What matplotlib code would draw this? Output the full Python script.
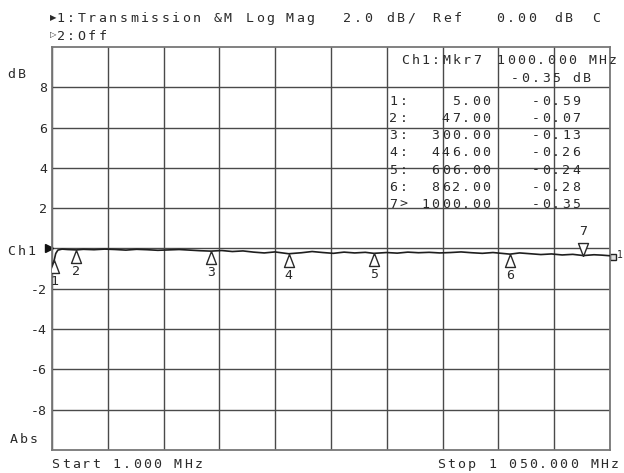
import numpy as np
import matplotlib
matplotlib.use("Agg")
import matplotlib.pyplot as plt

# ── data ──────────────────────────────────────────────
f_start, f_stop = 1.0, 1050.0
trace_freq = [1, 2, 3, 5, 8, 12, 20, 30, 47, 60, 80, 100, 120, 140, 160, 180,
              200, 220, 240, 260, 280, 300, 320, 340, 360, 380, 400, 420, 446,
              470, 490, 510, 530, 550, 570, 590, 606, 630, 650, 670, 690, 710,
              730, 750, 770, 790, 810, 830, 850, 862, 880, 900, 920, 940, 960,
              980, 1000, 1020, 1035, 1050]
trace_db = [-1.00, -0.85, -0.72, -0.59, -0.25, -0.08, -0.03, -0.05, -0.07, -0.04,
            -0.06, -0.03, -0.05, -0.08, -0.04, -0.06, -0.09, -0.07, -0.05, -0.08,
            -0.11, -0.13, -0.10, -0.15, -0.12, -0.18, -0.22, -0.17, -0.26, -0.21,
            -0.15, -0.20, -0.24, -0.18, -0.22, -0.19, -0.24, -0.20, -0.23, -0.18,
            -0.21, -0.19, -0.22, -0.20, -0.17, -0.21, -0.24, -0.20, -0.25, -0.28,
            -0.22, -0.26, -0.30, -0.27, -0.32, -0.29, -0.35, -0.31, -0.33, -0.36]
mkr_freq = [5, 47, 300, 446, 606, 862, 1000]
mkr_db = [-0.59, -0.07, -0.13, -0.26, -0.24, -0.28, -0.35]
active_mkr = 7
ytick_vals = [-8, -6, -4, -2, 0, 2, 4, 6, 8]
ytick_labels = ["-8", "-6", "-4", "-2", "", "2", "4", "6", "8"]

W, H = 624, 473
TXT = "#2a2a2a"
GRID = "#4a4a4a"
MONO = ["DejaVu Sans Mono", "DejaVu Sans"]
FS = 9.5

fig = plt.figure(figsize=(W / 100, H / 100), dpi=100)
fig.patch.set_facecolor("white")
ax = fig.add_axes([52 / W, 1 - 450 / H, 558 / W, 403 / H])


def mono(x, y, s, pitch=10.2, size=FS, right=False, color=TXT):
    # HP style text: each glyph on a fixed wide pitch, x/y in pixels from top-left
    if right:
        x = x - 7 - (len(s) - 1) * pitch
    for i, ch in enumerate(s):
        if ch != " ":
            fig.text((x + 3.5 + i * pitch) / W, 1 - (y + 4.7) / H, ch,
                     ha="center", va="baseline", fontsize=size,
                     family=MONO, color=color)


# ── grid / axes ──────────────────────────────────────
ax.set_xlim(f_start, f_stop)
ax.set_ylim(-10, 10)
ax.set_xticks(np.linspace(f_start, f_stop, 11))
ax.set_xticklabels([])
ax.set_yticks(ytick_vals, ytick_labels)
ax.tick_params(length=0, pad=3.6, labelsize=FS, labelcolor=TXT)
for lab in ax.get_yticklabels():
    lab.set_family(MONO)
ax.grid(True, color=GRID, lw=1.0)
for sp in ax.spines.values():
    sp.set_color("#777777")
    sp.set_linewidth(1.3)

# trace
ax.plot(trace_freq, trace_db, color="#1e1e1e", lw=1.2, zorder=3)

# markers (apex on the trace)
up_tri = [(0, 0), (-5, -13), (5, -13), (0, 0)]
dn_tri = [(0, 0), (-5, 13), (5, 13), (0, 0)]
for n, (f, v) in enumerate(zip(mkr_freq, mkr_db), start=1):
    if n == active_mkr:
        ax.plot(f, v, marker=dn_tri, ms=18.7, mfc="white", mec="#2a2a2a",
                mew=1.0, ls="", zorder=4)
        ax.annotate(str(n), (f, v), xytext=(0, 17.6), textcoords="offset points",
                    ha="center", va="center", fontsize=FS, family=MONO, color=TXT)
    else:
        ax.plot(f, v, marker=up_tri, ms=18.7, mfc="white", mec="#2a2a2a",
                mew=1.0, ls="", zorder=4)
        ax.annotate(str(n), (f, v), xytext=(0, -15.5), textcoords="offset points",
                    ha="center", va="center", fontsize=FS, family=MONO, color=TXT)

# reference pointers at both ends of the 0 dB line
ax.plot(-0.006, 0, marker=">", ms=6, color="#111111", transform=ax.get_yaxis_transform(),
        clip_on=False)
ax.plot(1.005, -0.4, marker="s", ms=5, mfc="#dddddd", mec="#222222", mew=1.0,
        transform=ax.get_yaxis_transform(), clip_on=False)
mono(616.5, 253, "1", size=7)

# ── header text ─────────────────────────────────────
fig.text(53 / W, 1 - 18 / H, "▶", fontsize=6, ha="center", va="center",
         family=["DejaVu Sans"], color=TXT)
fig.text(53 / W, 1 - 35 / H, "▷", fontsize=6, ha="center", va="center",
         family=["DejaVu Sans"], color=TXT)
mono(57, 17, "1:Transmission", pitch=10.5)
mono(214, 17, "&M", pitch=10.5)
mono(246, 17, "Log", pitch=10.5)
mono(286, 17, "Mag", pitch=10.5)
mono(344, 17, "2.0", pitch=10.5)
mono(387, 17, "dB/", pitch=10.5)
mono(433, 17, "Ref", pitch=10.5)
mono(497, 17, "0.00", pitch=10.5)
mono(555, 17, "dB", pitch=10.5)
mono(593, 17, "C", pitch=10.5)
mono(57, 35, "2:Off", pitch=10.5)

# left labels
mono(8, 73, "dB")
mono(8, 250, "Ch1")
mono(10, 438, "Abs")

# bottom labels
mono(52, 463, f"Start {f_start:.3f} MHz")
stop_txt = f"{f_stop:,.3f}".replace(",", " ")
mono(618, 463, f"Stop {stop_txt} MHz", right=True)

# marker table
act = active_mkr - 1
mono(402, 59, f"Ch1:Mkr{active_mkr}")
mono(497, 59, f"{mkr_freq[act]:.3f} MHz")
mono(590, 77, f"{mkr_db[act]:.2f} dB", right=True)
for i, (f, v) in enumerate(zip(mkr_freq, mkr_db)):
    y = 100 + 17.2 * i
    tag = f"{i + 1}>" if i == act else f"{i + 1}:"
    mono(390, y, tag)
    mono(490, y, f"{f:.2f}", right=True)
    mono(580, y, f"{v:.2f}", right=True)

fig.savefig("out.png", dpi=100)
